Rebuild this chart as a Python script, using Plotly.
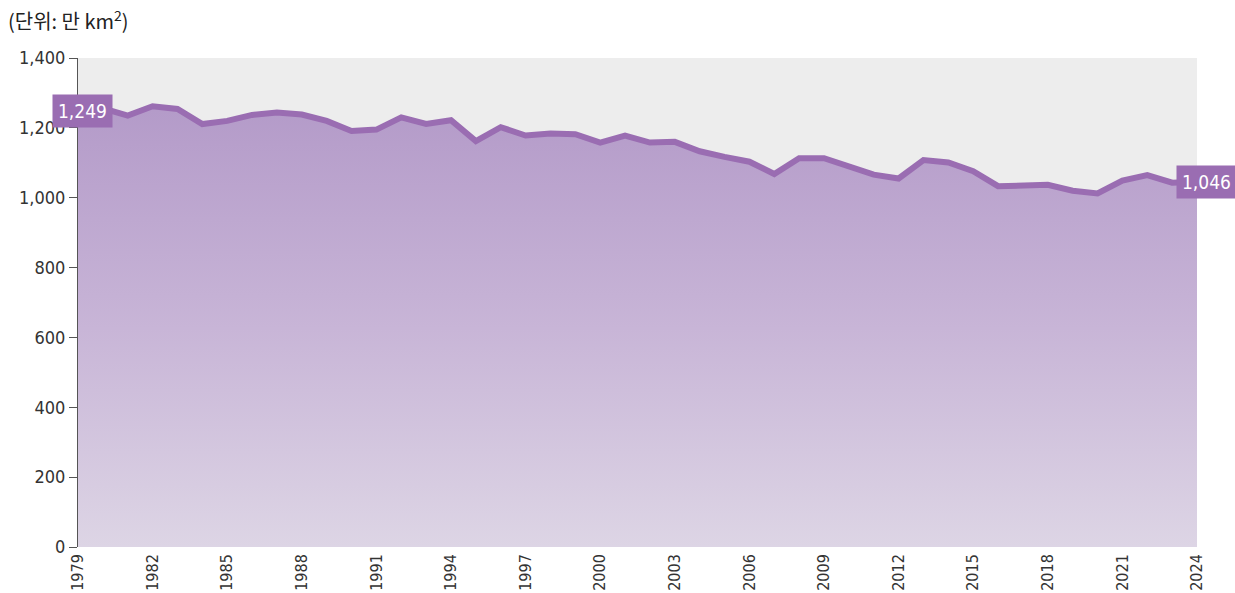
import plotly.graph_objects as go

# Annual values, unit: 만 km²
years = list(range(1979, 2025))
extent = [
    1249, 1256, 1235, 1262, 1254, 1211, 1220, 1237, 1244, 1238,
    1220, 1191, 1195, 1230, 1211, 1222, 1162, 1202, 1178, 1184,
    1182, 1158, 1178, 1158, 1160, 1133, 1117, 1103, 1068, 1113,
    1113, 1089, 1066, 1055, 1108, 1101, 1076, 1033, 1035, 1037,
    1020, 1012, 1049, 1065, 1043, 1046,
]
x_ticks = list(range(1979, 2025, 3))
y_ticks = list(range(0, 1401, 200))

LINE = "#9a6db2"
NUM_FONT = "DejaVu Sans Condensed, Liberation Sans Narrow, Roboto, sans-serif"

fig = go.Figure()
fig.add_trace(go.Scatter(
    x=years, y=extent,
    mode="lines",
    line=dict(color=LINE, width=6),
    fill="tozeroy",
    fillgradient=dict(
        type="vertical",
        start=0, stop=1250,
        colorscale=[[0, "#ddd5e5"], [0.5, "#c8b5d7"], [1, "#b49bc9"]],
    ),
    hoverinfo="skip",
    showlegend=False,
))

# value badges on the first and last points
for yr, val, xs in [(years[0], extent[0], 4), (years[-1], extent[-1], 9)]:
    fig.add_annotation(
        x=yr, y=val, xref="x", yref="y",
        text=f"{val:,}", showarrow=False,
        xshift=xs,
        font=dict(family=NUM_FONT, size=19, color="white"),
        bgcolor=LINE, borderpad=5,
    )

fig.add_annotation(
    xref="paper", yref="paper", x=0, y=1,
    xanchor="left", yanchor="middle",
    xshift=-72, yshift=38,
    text="(단위: 만 km<sup>2</sup>)", showarrow=False,
    font=dict(family="Noto Sans CJK KR, sans-serif", size=20, color="#222"),
)

fig.update_xaxes(
    range=[1979, 2024],
    tickvals=x_ticks,
    ticktext=[str(t) for t in x_ticks],
    tickangle=-90,
    ticks="", showgrid=False, zeroline=False, showline=False,
    tickfont=dict(family=NUM_FONT, size=16, color="#333"),
    ticklabelstandoff=3,
    automargin=False,
)
fig.update_yaxes(
    range=[0, 1400],
    tickvals=y_ticks,
    ticktext=[f"{t:,}" for t in y_ticks],
    ticks="outside", ticklen=8, tickcolor="#555", tickwidth=1.2,
    showline=True, linecolor="#555", linewidth=1.2,
    showgrid=False, zeroline=False,
    tickfont=dict(family=NUM_FONT, size=18, color="#333"),
    automargin=False,
)

fig.update_layout(
    width=1235, height=593,
    margin=dict(l=78, r=38, t=58, b=46),
    plot_bgcolor="#ededed",
    paper_bgcolor="white",
)

fig.write_html("out.html")
